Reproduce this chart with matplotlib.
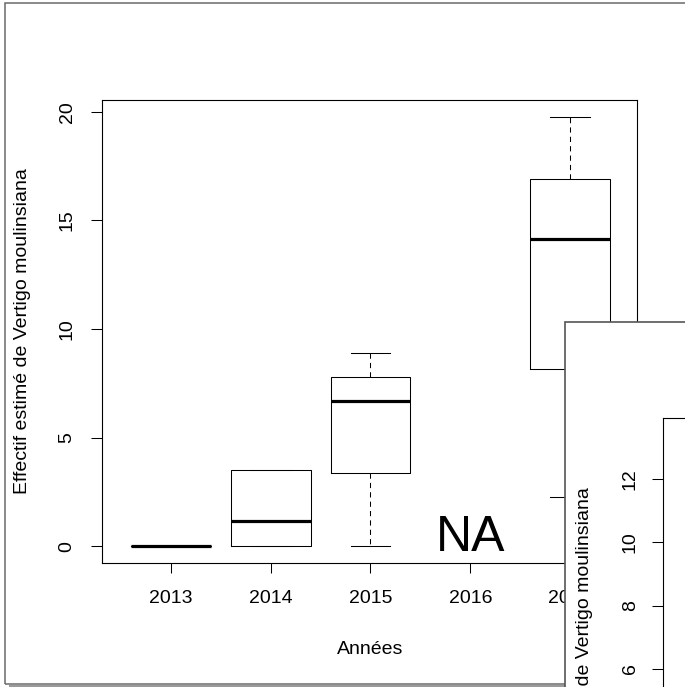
import matplotlib
matplotlib.use('Agg')
import matplotlib.pyplot as plt
from matplotlib.patches import Rectangle
from matplotlib.lines import Line2D

# ---- data ----
years = ['2013', '2014', '2015', '2016', '2017']
whislo = [0.0, 0.0, 0.0, None, 2.26]
q1 = [0.0, 0.0, 3.36, None, 8.16]
med = [0.0, 1.15, 6.68, None, 14.15]
q3 = [0.0, 3.5, 7.8, None, 16.9]
whishi = [0.0, 3.5, 8.9, None, 19.77]
main_yticks = [0, 5, 10, 15, 20]
inner_yticks = [6, 8, 10, 12]
na_text = 'NA'
ylabel_text = 'Effectif estimé de Vertigo moulinsiana'
xlabel_text = 'Années'

plt.rcParams['font.family'] = ['Liberation Sans', 'DejaVu Sans']

W, H = 685, 687
DPI = 100
fig = plt.figure(figsize=(W / DPI, H / DPI), dpi=DPI)
fig.patch.set_facecolor('white')


def fx(px):
    return px / W


def fy(py):
    return 1 - py / H


def rect(l, t, r, b):
    return [fx(l), fy(b), fx(r) - fx(l), fy(t) - fy(b)]


FS = 14

# ---- main window border ----
fig.add_artist(Rectangle((fx(5), fy(684)), fx(720) - fx(5), fy(3) - fy(684),
                         transform=fig.transFigure, facecolor='none',
                         edgecolor='#6a6a6a', lw=1.1, zorder=1))
fig.add_artist(Line2D([fx(10), fx(690)], [fy(685.8), fy(685.8)],
                      transform=fig.transFigure, color='#9a9a9a', lw=1.5, zorder=1))

# ---- main axes ----
ax = fig.add_axes(rect(102, 100, 637, 563))
stats, positions = [], []
for i, yr in enumerate(years):
    if med[i] is None:
        continue
    stats.append(dict(whislo=whislo[i], q1=q1[i], med=med[i], q3=q3[i],
                      whishi=whishi[i], fliers=[], label=yr))
    positions.append(i + 1)

ax.bxp(stats, positions=positions, widths=0.8, showfliers=False, capwidths=0.4,
       boxprops=dict(color='black', lw=0.75),
       medianprops=dict(color='black', lw=2.3, solid_capstyle='butt'),
       whiskerprops=dict(color='black', lw=0.75, linestyle=(0, (5, 4))),
       capprops=dict(color='black', lw=0.75))

ax.text(4, -0.25, na_text, ha='center', va='baseline', fontsize=36)

ax.set_xlim(0.31, 5.67)
ax.set_ylim(-0.78, 20.55)
ax.set_xticks(range(1, len(years) + 1))
ax.set_xticklabels(years)
ax.set_yticks(main_yticks)
ax.set_yticklabels([str(v) for v in main_yticks], rotation=90, va='center')
ax.tick_params(axis='x', length=7.5, width=0.75, pad=12, labelsize=FS, colors='black')
ax.tick_params(axis='y', length=8, width=0.75, pad=11, labelsize=FS, colors='black')
for s in ax.spines.values():
    s.set_linewidth(0.8)
    s.set_color('black')

fig.text(fx(27), fy(331), ylabel_text, rotation=90, rotation_mode='anchor',
         ha='center', va='baseline', fontsize=FS)
fig.text(fx(370), fy(654), xlabel_text, ha='center', va='baseline', fontsize=FS)

# ---- second (overlapping) window ----
fig.add_artist(Rectangle((fx(565), fy(720)), fx(720) - fx(565), fy(322) - fy(720),
                         transform=fig.transFigure, facecolor='white',
                         edgecolor='#555555', lw=1.2, zorder=5))

ax2 = fig.add_axes(rect(663, 418, 720, 687))
ax2.set_zorder(6)
ax2.set_facecolor('white')
ax2.set_ylim(12 - (687 - 479) / 31.67, 12 + (479 - 418) / 31.67)
ax2.set_xticks([])
ax2.set_yticks(inner_yticks)
ax2.set_yticklabels([str(v) for v in inner_yticks], rotation=90, va='center')
ax2.tick_params(axis='y', length=8, width=0.75, pad=9.5, labelsize=FS, colors='black')
ax2.spines['bottom'].set_visible(False)
ax2.spines['right'].set_visible(False)
for s in ('left', 'top'):
    ax2.spines[s].set_linewidth(0.8)
    ax2.spines[s].set_color('black')

t2 = fig.text(fx(589), fy(487), ylabel_text, rotation=90, rotation_mode='anchor',
              ha='right', va='baseline', fontsize=FS)
t2.set_zorder(7)

fig.savefig('out.png', dpi=DPI, facecolor='white')
